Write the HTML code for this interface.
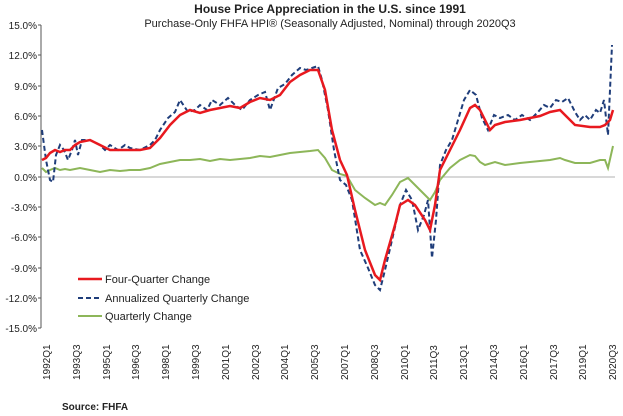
<!DOCTYPE html>
<html><head><style>body{margin:0;background:#fff}svg{display:block}text{font-family:"Liberation Sans",Arial,sans-serif;fill:#222}</style></head>
<body>
<svg width="623" height="416" viewBox="0 0 623 416">
<text x="330" y="13" text-anchor="middle" font-size="12" font-weight="bold">House Price Appreciation in the U.S. since 1991</text>
<text x="330" y="27" text-anchor="middle" font-size="11">Purchase-Only FHFA HPI® (Seasonally Adjusted, Nominal) through 2020Q3</text>
<g font-size="10" text-anchor="end">
<text x="37" y="29">15.0%</text><text x="37" y="59">12.0%</text><text x="37" y="90">9.0%</text><text x="37" y="120">6.0%</text><text x="37" y="150">3.0%</text><text x="37" y="181">0.0%</text><text x="37" y="211">-3.0%</text><text x="37" y="241">-6.0%</text><text x="37" y="272">-9.0%</text><text x="37" y="302">-12.0%</text><text x="37" y="332">-15.0%</text>
</g>
<path d="M41 25V328M38 25H41M38 55H41M38 86H41M38 116H41M38 146H41M38 177H41M38 207H41M38 237H41M38 268H41M38 298H41M38 328H41" stroke="#555" fill="none"/>
<line x1="41" y1="177" x2="615" y2="177" stroke="#999" stroke-width="0.8"/>
<g font-size="10">
<text transform="translate(50,380) rotate(-90)">1992Q1</text><text transform="translate(80,380) rotate(-90)">1993Q3</text><text transform="translate(110,380) rotate(-90)">1995Q1</text><text transform="translate(139,380) rotate(-90)">1996Q3</text><text transform="translate(169,380) rotate(-90)">1998Q1</text><text transform="translate(199,380) rotate(-90)">1999Q3</text><text transform="translate(229,380) rotate(-90)">2001Q1</text><text transform="translate(259,380) rotate(-90)">2002Q3</text><text transform="translate(288,380) rotate(-90)">2004Q1</text><text transform="translate(318,380) rotate(-90)">2005Q3</text><text transform="translate(348,380) rotate(-90)">2007Q1</text><text transform="translate(378,380) rotate(-90)">2008Q3</text><text transform="translate(408,380) rotate(-90)">2010Q1</text><text transform="translate(437,380) rotate(-90)">2011Q3</text><text transform="translate(467,380) rotate(-90)">2013Q1</text><text transform="translate(497,380) rotate(-90)">2014Q3</text><text transform="translate(527,380) rotate(-90)">2016Q1</text><text transform="translate(557,380) rotate(-90)">2017Q3</text><text transform="translate(586,380) rotate(-90)">2019Q1</text><text transform="translate(616,380) rotate(-90)">2020Q3</text>
</g>
<polyline fill="none" stroke="#8db659" stroke-width="2" points="42,168 46,172 50,170 55,168 60,170 65,169 70,170 80,168 90,170 100,172 110,170 120,171 130,170 140,170 150,168 160,164 170,162 180,160 190,160 200,159 210,161 220,159 230,160 240,159 250,158 260,156 270,157 280,155 290,153 300,152 310,151 318,150 325,158 332,170 340,174 347,176 355,190 365,198 375,205 380,203 385,205 392,195 400,182 408,178 415,185 425,195 430,200 435,192 440,180 450,168 460,160 470,155 475,156 480,162 485,165 495,162 505,165 520,163 530,162 540,161 550,160 560,158 565,160 575,163 590,163 600,160 605,160 608,168 613,146"/>
<polyline fill="none" stroke="#1f3d7a" stroke-width="2" stroke-dasharray="5,3" points="42,130 46,160 50,180 53,182 56,155 60,145 64,150 68,160 72,150 75,140 78,155 82,140 90,140 100,145 105,150 110,145 118,150 125,145 130,148 140,150 150,145 155,140 160,130 168,118 175,112 180,100 188,112 195,110 200,105 207,110 212,100 220,105 228,98 235,105 242,110 250,100 258,95 265,92 270,110 278,88 285,84 292,75 300,68 306,70 312,68 318,66 322,80 328,110 334,150 340,180 346,185 352,200 360,250 368,268 375,285 380,290 385,270 392,240 400,205 406,190 412,200 418,230 424,215 428,200 432,258 436,220 440,165 446,150 452,140 458,120 464,100 470,90 476,95 482,118 488,130 494,115 500,118 508,115 515,120 522,115 530,120 538,112 544,105 550,108 556,100 562,102 568,98 575,112 580,120 585,115 590,120 596,110 600,113 604,100 608,135 612,45"/>
<polyline fill="none" stroke="#e8191f" stroke-width="2.5" points="42,160 46,158 50,153 55,150 60,152 65,150 70,150 75,145 80,142 90,140 100,145 110,150 120,150 130,150 140,150 150,148 160,138 170,125 180,115 190,110 200,113 210,110 220,108 230,106 240,108 250,102 260,98 270,100 280,95 290,82 300,75 310,70 318,70 325,90 332,130 340,160 347,175 355,210 365,250 375,275 380,280 385,260 395,225 400,205 408,200 415,205 425,220 430,230 435,205 440,170 450,150 460,130 470,108 475,105 480,110 485,120 490,130 495,125 505,122 520,120 530,118 540,116 550,112 560,110 565,115 575,125 590,127 600,127 605,125 610,120 613,110"/>
<line x1="78" y1="279" x2="102" y2="279" stroke="#e8191f" stroke-width="2.5"/>
<line x1="78" y1="298" x2="102" y2="298" stroke="#1f3d7a" stroke-width="2" stroke-dasharray="5,3"/>
<line x1="78" y1="316" x2="102" y2="316" stroke="#8db659" stroke-width="2"/>
<g font-size="11"><text x="105" y="283">Four-Quarter Change</text><text x="105" y="302">Annualized Quarterly Change</text><text x="105" y="320">Quarterly Change</text></g>
<text x="62" y="410" font-size="10" font-weight="bold">Source:  FHFA</text>
</svg>
</body></html>
